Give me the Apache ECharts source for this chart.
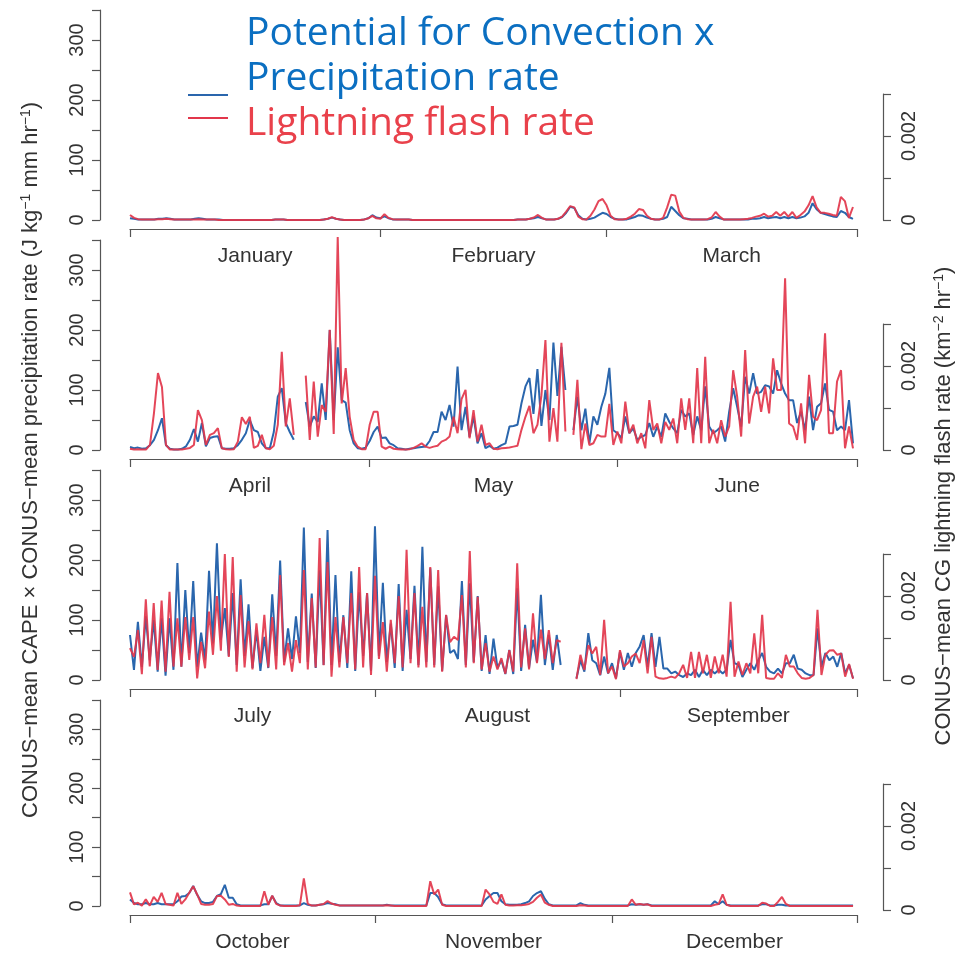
<!DOCTYPE html>
<html><head><meta charset="utf-8">
<script src="https://cdn.jsdelivr.net/npm/echarts@6/dist/echarts.min.js"></script>
<style>html,body{margin:0;padding:0;background:#fff}#c{width:961px;height:953px}</style>
</head><body><div id="c"></div>
<script>
// Month names and lengths (non-leap year)
const monthNames = ['January','February','March','April','May','June','July','August','September','October','November','December'];
const monthDays = [31,28,31,30,31,30,31,31,30,31,30,31];
// Left-axis tick labels and right-axis tick labels (flash rate, km^-2 hr^-1)
const leftTickLabels = [0,100,200,300];
const rightTickLabels = {0:'0', 200:'0.002'}; // keys in 1e-5 km^-2 hr^-1

// Two values per day (12-hourly). Blue: CAPE x precip (J kg^-1 mm hr^-1). Red: flash rate in 1e-5 km^-2 hr^-1.
const convJFM = [3,2,1,1,1,1,1,2,2,3, 2,1,1,1,1,1,2,3,2,1, 1,1,1,0,0,0,0,0,0,0, 0,0,0,0,0,0,1,1,1,0, 0,0,0,0,0,0,0,0,1,2, 4,2,1,0,0,0,0,0,1,3, 8,4,3,6,3,1,1,1,1,1, 0,0,0,0,0,0,0,0,0,0, 0,0,0,0,0,0,0,0,0,0, 0,0,0,0,0,0,1,1,1,2, 3,5,3,1,1,1,2,5,12,22, 20,8,2,1,2,4,8,12,10,5, 2,1,1,1,3,5,8,7,4,2, 1,1,2,5,22,15,8,3,2,1, 1,1,1,1,2,5,3,1,1,1, 1,1,1,1,2,2,3,5,3,4, 5,3,5,3,5,3,4,6,12,28, 18,12,10,8,6,5,15,12,5,2];
const flashJFM = [12,5,2,1,1,1,1,2,2,3, 2,1,1,1,1,1,1,2,1,1, 1,1,0,0,0,0,0,0,0,0, 0,0,0,0,0,0,1,1,1,0, 0,0,0,0,0,0,0,0,1,3, 7,3,1,0,0,0,0,0,1,4, 10,4,3,14,5,2,1,1,1,1, 0,0,0,0,0,0,0,0,0,0, 0,0,0,0,0,0,0,0,0,0, 0,0,0,0,0,0,1,1,1,3, 6,12,5,1,1,1,3,8,20,33, 30,8,2,1,10,25,45,50,35,10, 2,1,1,3,8,15,26,24,10,3, 1,1,5,30,60,58,20,5,2,1, 1,1,1,2,6,19,8,1,1,1, 1,1,2,3,5,8,10,15,8,10, 19,10,19,8,19,5,12,20,35,57, 30,17,17,15,12,10,55,45,5,31];

const convAMJ = [5,3,4,2,3,8,17,33,53,8, 2,1,1,2,6,17,35,14,45,6, 20,22,23,3,2,2,3,8,17,28, 50,33,30,11,3,3,30,89,103,45, 30,17,null,null,80,39,56,47,111,50, 200,50,171,83,79,33,11,3,2,4, 15,30,39,20,21,11,8,3,2,1, 2,3,4,5,6,15,30,30,64,50, 75,39,139,33,72,22,56,11,28,3, 7,2,4,8,11,39,40,42,78,106, 120,60,135,40,100,50,179,90,172,100, null,33,89,33,69,11,56,42,72,94, 137,33,28,20,56,28,36,17,22,25, 45,22,39,22,61,47,36,28,67,56, 61,25,56,33,106,39,28,33,39,14, 64,103,72,39,122,94,128,94,97,108, 106,94,133,111,94,83,83,45,64,33, 89,33,72,78,111,67,64,33,39,33, 83,11];
const flashAMJ = [3,1,2,1,1,12,88,183,150,12, 1,1,1,1,3,5,12,95,71,12, 36,40,52,4,2,1,2,20,78,62, 79,5,10,36,4,2,10,60,234,56, 123,36,null,null,177,24,163,32,107,91, 286,38,507,111,195,79,24,8,2,2, 60,91,91,8,3,8,3,2,1,1, 2,5,10,16,8,5,8,10,20,24, 32,79,40,121,143,28,95,20,60,12, 16,3,2,4,5,6,8,10,48,79, 105,40,60,130,262,20,100,20,255,44, null,36,167,2,63,12,16,36,32,32, 110,12,44,16,115,40,60,16,40,4, 119,48,63,16,67,48,75,16,123,48, 123,16,195,16,222,16,48,16,71,32, 56,190,127,32,238,63,127,151,91,151, 87,218,143,143,409,63,56,24,111,16, 179,79,71,95,278,40,40,163,190,4, 56,4];

const convJAS = [75,17,97,22,106,33,100,14,103,7, 103,17,195,22,150,45,165,22,79,33, 182,61,228,67,120,40,145,25,168,40, 126,20,83,15,72,20,143,40,199,30, 86,35,106,45,254,30,144,20,183,25, 250,25,175,30,108,20,181,15,146,40, 145,15,256,40,162,30,94,20,160,15, 117,35,157,25,222,30,186,25,156,15, 108,45,50,35,165,25,161,30,140,15, 75,10,69,20,33,10,50,10,153,15, 92,20,67,30,142,25,75,17,75,25, null,null,null,3,33,14,78,33,28,8, 39,11,28,3,47,17,45,22,45,56, 75,22,78,22,72,19,19,11,14,8, 5,11,8,17,5,17,8,17,11,17, 11,17,67,28,25,5,17,28,17,33, 45,22,14,11,19,11,28,28,42,19, 17,11,8,8,86,22,45,33,39,22, 45,11,25,3];
const flashJAS = [76,55,119,14,192,32,183,24,189,20, 210,32,147,32,150,48,150,4,91,28, 163,60,200,70,300,55,293,20,202,30, 140,25,135,40,155,30,150,25,250,35, 88,20,95,40,262,25,195,30,338,35, 281,8,150,30,150,40,207,25,269,30, 207,12,248,50,138,20,143,40,200,30, 310,40,207,30,174,30,269,30,262,20, 155,90,103,95,202,30,307,40,198,25, 88,20,56,25,52,15,71,20,278,30, 123,25,159,40,120,50,119,40,95,91, null,null,null,2,60,24,83,63,79,12, 143,16,32,2,71,32,40,56,63,40, 95,16,103,8,4,3,5,8,5,16, 36,5,67,5,67,16,60,5,56,16, 60,8,186,8,44,12,40,16,111,16, 155,5,3,3,16,5,60,32,32,16, 5,3,5,12,167,12,60,70,71,60, 63,8,38,3];

const convOND = [11,5,3,3,5,3,3,5,3,3, 3,3,8,16,17,22,34,19,8,5, 5,7,17,20,36,14,14,3,1,1, 1,1,1,1,3,3,17,5,1,1, 1,1,1,1,5,2,1,1,2,3, 5,4,3,1,1,1,1,1,1,1, 1,1,1,1,1,2,1,1,1,1, 1,1,1,1,1,1,22,22,15,3, 1,1,1,1,1,1,1,1,1,1, 11,17,22,22,8,3,2,2,2,3, 5,8,17,22,25,12,3,1,1,1, 1,1,1,1,5,2,1,1,1,1, 1,1,1,1,1,1,1,3,2,3, 2,3,1,1,1,1,1,1,1,1, 1,1,1,1,1,1,1,1,8,3, 8,2,1,1,1,1,1,1,1,1, 3,3,1,1,2,2,1,1,1,1, 1,1,1,1,1,1,1,1,1,1, 1,1,1,1];
const flashOND = [33,4,8,1,16,1,22,10,32,5, 3,1,32,5,16,32,48,28,5,3, 3,5,24,25,16,3,5,1,0,0, 0,0,0,0,36,3,25,5,1,0, 0,0,0,2,67,5,1,1,3,5, 12,6,3,1,1,1,1,1,1,1, 1,1,1,1,1,2,1,0,0,0, 0,0,0,0,0,0,60,28,40,3, 0,0,0,0,0,0,0,0,0,0, 40,28,10,5,28,3,1,1,2,2, 3,5,10,20,28,8,3,0,0,0, 0,0,0,0,2,1,0,0,0,0, 0,0,0,0,0,0,0,16,3,5, 3,4,0,0,0,0,0,0,0,0, 0,0,0,0,0,0,0,0,3,5, 28,3,0,0,0,0,0,0,0,0, 8,6,0,0,10,22,5,0,0,0, 0,0,0,0,0,0,0,0,0,0, 0,0,0,0];

const panels = [
  {months:[0,1,2], conv:convJFM, flash:flashJFM},
  {months:[3,4,5], conv:convAMJ, flash:flashAMJ},
  {months:[6,7,8], conv:convJAS, flash:flashJAS},
  {months:[9,10,11], conv:convOND, flash:flashOND}
];

const BLUE = '#2a66ad', RED = '#e2364b', AXIS = '#555', TXT = '#333';
const FONT = '"Liberation Sans", Arial, Helvetica, sans-serif';
const grids = [], xAxes = [], yAxes = [], series = [];

panels.forEach((p, k) => {
  const top = 10 + 230 * k;
  const d = p.months.map(m => monthDays[m]);
  const total = d[0] + d[1] + d[2];
  const bounds = [0, d[0], d[0] + d[1], total];
  const mids = [d[0] / 2, d[0] + d[1] / 2, d[0] + d[1] + d[2] / 2];
  const names = p.months.map(m => monthNames[m]);

  grids.push({left: 130, right: 104, top: top, height: 210});
  grids.push({left: 130, right: 104, top: top + 84, height: 126});

  xAxes.push({
    gridIndex: 2 * k, type: 'value', min: 0, max: total, offset: 9, position: 'bottom',
    axisLine: {show: true, onZero: false, lineStyle: {color: AXIS, width: 1.2}},
    axisTick: {show: true, length: 8, inside: false, customValues: bounds, lineStyle: {color: AXIS, width: 1.2}},
    axisLabel: {show: true, customValues: mids, margin: 17, fontSize: 21, color: TXT, fontFamily: FONT,
      formatter: v => { let b = 0; mids.forEach((m, j) => { if (Math.abs(m - v) < Math.abs(mids[b] - v)) b = j; }); return names[b]; }},
    splitLine: {show: false}
  });
  xAxes.push({gridIndex: 2 * k + 1, type: 'value', min: 0, max: total, show: false, axisLine: {onZero: false}});

  const yl = yAxes.length;
  yAxes.push({
    gridIndex: 2 * k, type: 'value', min: 0, max: 350, interval: 50, position: 'left', offset: 30,
    axisLine: {show: true, onZero: false, lineStyle: {color: AXIS, width: 1.2}},
    axisTick: {show: true, length: 8, lineStyle: {color: AXIS, width: 1.2}},
    axisLabel: {rotate: 90, margin: 13, fontSize: 20, color: TXT, fontFamily: FONT,
      formatter: v => leftTickLabels.indexOf(v) >= 0 ? String(v) : ''},
    splitLine: {show: false}
  });
  yAxes.push({gridIndex: 2 * k, type: 'value', min: 0, max: 500, position: 'right', show: false, axisLine: {onZero: false}, splitLine: {show: false}});
  yAxes.push({
    gridIndex: 2 * k + 1, type: 'value', min: 0, max: 300, interval: 100, position: 'right', offset: 26,
    axisLine: {show: true, onZero: false, lineStyle: {color: AXIS, width: 1.2}},
    axisTick: {show: true, length: 8, lineStyle: {color: AXIS, width: 1.2}},
    axisLabel: {rotate: 90, margin: 16, fontSize: 20, color: TXT, fontFamily: FONT,
      formatter: v => rightTickLabels[v] !== undefined ? rightTickLabels[v] : ''},
    splitLine: {show: false}
  });

  const toPts = arr => arr.map((v, i) => [i / 2, v === null ? '-' : v]);
  series.push({type: 'line', xAxisIndex: 2 * k, yAxisIndex: yl, data: toPts(p.conv),
    showSymbol: false, symbol: 'none', lineStyle: {color: BLUE, width: 2}, itemStyle: {color: BLUE}, clip: false, animation: false});
  series.push({type: 'line', xAxisIndex: 2 * k, yAxisIndex: yl + 1, data: toPts(p.flash),
    showSymbol: false, symbol: 'none', lineStyle: {color: RED, width: 2, opacity: 0.92}, itemStyle: {color: RED}, clip: false, animation: false});
});

const sup = {fontSize: 14, fontFamily: FONT, fill: TXT, verticalAlign: 'top', lineHeight: 24};
const norm = {fontSize: 22, fontFamily: FONT, fill: TXT, lineHeight: 24};

const graphic = [
  {type: 'text', x: 31, y: 460, rotation: Math.PI / 2, silent: true,
    style: {text: '{a|CONUS\u2212mean CAPE \u00d7 CONUS\u2212mean precipitation rate (J kg}{s|\u22121}{a| mm hr}{s|\u22121}{a|)}',
      rich: {a: norm, s: sup}, align: 'center', verticalAlign: 'middle', textAlign: 'center', textVerticalAlign: 'middle'}},
  {type: 'text', x: 944, y: 506, rotation: Math.PI / 2, silent: true,
    style: {text: '{a|CONUS\u2212mean CG lightning flash rate (km}{s|\u22122}{a| hr}{s|\u22121}{a|)}',
      rich: {a: norm, s: sup}, align: 'center', verticalAlign: 'middle', textAlign: 'center', textVerticalAlign: 'middle'}},
  {type: 'line', silent: true, shape: {x1: 188, y1: 95, x2: 228, y2: 95}, style: {stroke: BLUE, lineWidth: 2}},
  {type: 'line', silent: true, shape: {x1: 188, y1: 118, x2: 228, y2: 118}, style: {stroke: RED, lineWidth: 2}},
  {type: 'text', x: 246, y: 34, silent: true, style: {text: 'Potential for Convection x', fill: '#0b6fc1', font: '39px "Open Sans", sans-serif', align: 'left', verticalAlign: 'middle', textAlign: 'left', textVerticalAlign: 'middle'}},
  {type: 'text', x: 246, y: 79, silent: true, style: {text: 'Precipitation rate', fill: '#0b6fc1', font: '39px "Open Sans", sans-serif', align: 'left', verticalAlign: 'middle', textAlign: 'left', textVerticalAlign: 'middle'}},
  {type: 'text', x: 246, y: 124, silent: true, style: {text: 'Lightning flash rate', fill: '#e9414b', font: '39px "Open Sans", sans-serif', align: 'left', verticalAlign: 'middle', textAlign: 'left', textVerticalAlign: 'middle'}}
];

const chart = echarts.init(document.getElementById('c'), null, {renderer: 'canvas'});
chart.setOption({
  backgroundColor: '#ffffff',
  animation: false,
  grid: grids, xAxis: xAxes, yAxis: yAxes, series: series, graphic: graphic
});
</script>
</body></html>
